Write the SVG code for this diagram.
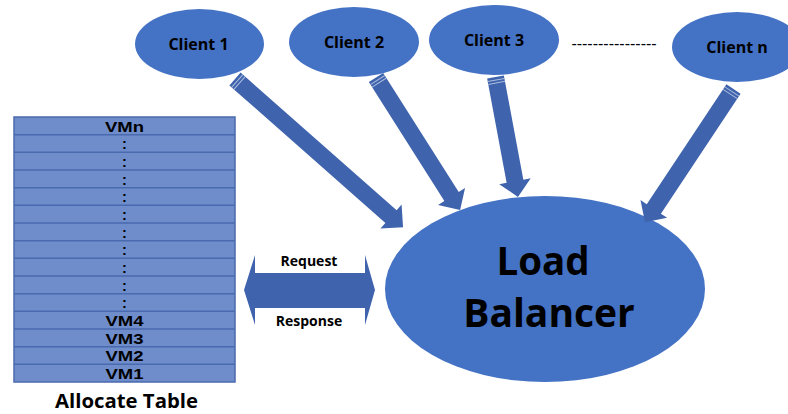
<svg xmlns="http://www.w3.org/2000/svg" width="788" height="414" viewBox="0 0 788 414">
  <style>
    .node { fill: #4472C4; }
    .lbl { font-family: "Open Sans", "Liberation Sans", sans-serif; font-weight: bold; fill: #000; text-anchor: middle; }
    .client { font-size: 16px; }
    .row { font-family: "Liberation Sans", Arial, sans-serif; font-size: 14.5px; }
    .flow { fill: #3F64AD; }
    .tick { stroke: #C8D3EC; stroke-width: 1; opacity: 0.8; }
    .grid { stroke: #4A6AAF; stroke-width: 1.5; }
  </style>

  <rect width="788" height="414" fill="#FFFFFF"/>

  <!-- client nodes -->
  <g id="client-1">
    <ellipse class="node" cx="199.5" cy="44" rx="64.5" ry="35"/>
    <text class="lbl client" x="198.5" y="49.5">Client 1</text>
  </g>
  <g id="client-2">
    <ellipse class="node" cx="354" cy="42" rx="65" ry="35"/>
    <text class="lbl client" x="354" y="48">Client 2</text>
  </g>
  <g id="client-3">
    <ellipse class="node" cx="494" cy="40" rx="65" ry="35"/>
    <text class="lbl client" x="494" y="45.5">Client 3</text>
  </g>
  <g id="client-ellipsis">
    <text x="614" y="49" font-family="Liberation Sans, sans-serif" font-size="16" text-anchor="middle" fill="#000">----------------</text>
  </g>
  <g id="client-n">
    <ellipse class="node" cx="737" cy="47" rx="65" ry="35"/>
    <text class="lbl client" x="737" y="52.5">Client n</text>
  </g>

  <!-- load balancer -->
  <g id="load-balancer">
    <ellipse class="node" cx="545" cy="289" rx="160" ry="93"/>
    <text class="lbl" x="543" y="275" font-size="38.5">Load</text>
    <text class="lbl" x="549" y="327" font-size="39">Balancer</text>
  </g>

  <!-- allocate table -->
  <g id="allocate-table">
    <rect x="14" y="117" width="221" height="265" fill="#6F8CCB" class="grid"/>
    <g class="grid">
      <line x1="14" y1="134.67" x2="235" y2="134.67"/>
      <line x1="14" y1="152.33" x2="235" y2="152.33"/>
      <line x1="14" y1="170" x2="235" y2="170"/>
      <line x1="14" y1="187.67" x2="235" y2="187.67"/>
      <line x1="14" y1="205.33" x2="235" y2="205.33"/>
      <line x1="14" y1="223" x2="235" y2="223"/>
      <line x1="14" y1="240.67" x2="235" y2="240.67"/>
      <line x1="14" y1="258.33" x2="235" y2="258.33"/>
      <line x1="14" y1="276" x2="235" y2="276"/>
      <line x1="14" y1="293.67" x2="235" y2="293.67"/>
      <line x1="14" y1="311.33" x2="235" y2="311.33"/>
      <line x1="14" y1="329" x2="235" y2="329"/>
      <line x1="14" y1="346.67" x2="235" y2="346.67"/>
      <line x1="14" y1="364.33" x2="235" y2="364.33"/>
    </g>
    <g class="lbl row">
      <text x="124.5" y="131.5" textLength="39" lengthAdjust="spacingAndGlyphs">VMn</text>
      <text x="124.5" y="149.2">:</text>
      <text x="124.5" y="166.8">:</text>
      <text x="124.5" y="184.5">:</text>
      <text x="124.5" y="202.2">:</text>
      <text x="124.5" y="219.8">:</text>
      <text x="124.5" y="237.5">:</text>
      <text x="124.5" y="255.2">:</text>
      <text x="124.5" y="272.8">:</text>
      <text x="124.5" y="290.5">:</text>
      <text x="124.5" y="308.2">:</text>
      <text x="124.5" y="325.8" textLength="38" lengthAdjust="spacingAndGlyphs">VM4</text>
      <text x="124.5" y="343.5" textLength="38" lengthAdjust="spacingAndGlyphs">VM3</text>
      <text x="124.5" y="361.2" textLength="38" lengthAdjust="spacingAndGlyphs">VM2</text>
      <text x="124.5" y="378.8" textLength="38" lengthAdjust="spacingAndGlyphs">VM1</text>
    </g>
    <text class="lbl" x="126.5" y="408" font-size="19" textLength="143" lengthAdjust="spacingAndGlyphs">Allocate Table</text>
  </g>

  <!-- connectors: block arrows from each client into the balancer, and the request/response exchange -->
  <g id="connectors">
    <g transform="translate(235 79) rotate(41.4)">
      <path class="flow" d="M0,-8.5 H208 V-16 L224,0 L208,16 V8.5 H0 Z"/>
      <line class="tick" x1="3" y1="-8.5" x2="3" y2="8.5"/>
      <line class="tick" x1="6" y1="-8.5" x2="6" y2="8.5"/>
    </g>
    <g transform="translate(376 77.5) rotate(57.6)">
      <path class="flow" d="M0,-8.5 H141 V-16 L157,0 L141,16 V8.5 H0 Z"/>
      <line class="tick" x1="3" y1="-8.5" x2="3" y2="8.5"/>
      <line class="tick" x1="6" y1="-8.5" x2="6" y2="8.5"/>
    </g>
    <g transform="translate(495.5 77) rotate(79.4)">
      <path class="flow" d="M0,-8.5 H106 V-16 L122,0 L106,16 V8.5 H0 Z"/>
      <line class="tick" x1="3" y1="-8.5" x2="3" y2="8.5"/>
      <line class="tick" x1="6" y1="-8.5" x2="6" y2="8.5"/>
    </g>
    <g transform="translate(733.5 89) rotate(123.6)">
      <path class="flow" d="M0,-8.5 H144 V-16 L160,0 L144,16 V8.5 H0 Z"/>
      <line class="tick" x1="3" y1="-8.5" x2="3" y2="8.5"/>
      <line class="tick" x1="6" y1="-8.5" x2="6" y2="8.5"/>
    </g>
    <path class="flow" d="M244,290 L255,255 V273 H365 V255 L375,290 L365,325 V308 H255 V325 Z"/>
    <text class="lbl" x="309" y="266" font-size="14">Request</text>
    <text class="lbl" x="309" y="325.5" font-size="14">Response</text>
  </g>
</svg>
